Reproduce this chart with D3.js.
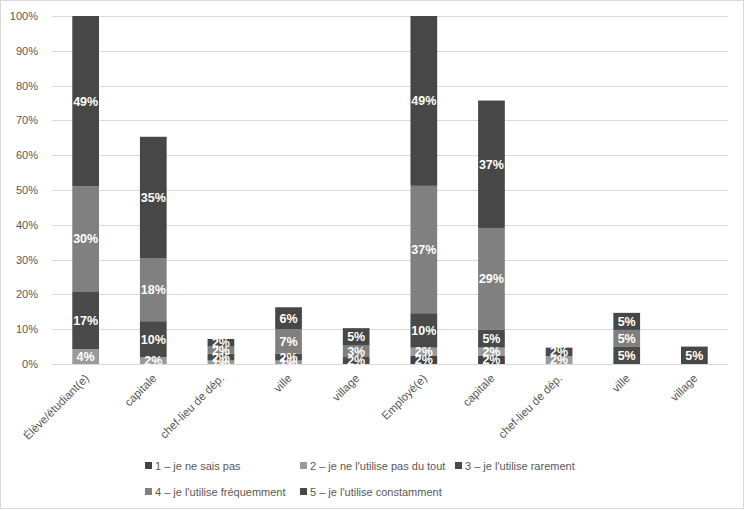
<!DOCTYPE html>
<html>
<head>
<meta charset="utf-8">
<script src="https://cdn.jsdelivr.net/npm/d3@7"></script>
<style>
  html, body { margin: 0; padding: 0; background: #fff; }
  svg { display: block; }
  text { font-family: "Liberation Sans", Arial, sans-serif; }
</style>
</head>
<body>
<div id="chart"></div>
<script>
// ---- Data (percent values) ----
const categories = ["Élève/étudiant(e)", "capitale", "chef-lieu de dép.", "ville", "village",
                    "Employé(e)", "capitale", "chef-lieu de dép.", "ville", "village"];
const seriesNames = ["1 – je ne sais pas", "2 – je ne l'utilise pas du tout", "3 – je l'utilise rarement",
                     "4 – je l'utilise fréquemment", "5 – je l'utilise constamment"];
const s1 = [0,   0,   0,   0,   0,   2.3, 2.3, 0,   0,   0];
const s2 = [4.3, 2.0, 1.0, 1.0, 0,   2.4, 2.4, 2.3, 0,   0];
const s3 = [16.6,10.3,2.0, 2.0, 2.0, 9.9, 5.1, 2.4, 4.9, 0];
const s4 = [30.2,18.0,2.0, 7.0, 3.3, 36.6,29.3,0,   4.9, 0];
const s5 = [48.9,35.0,2.2, 6.3, 5.0, 48.8,36.6,0,   4.9, 5.0];
const yTicks = [0,10,20,30,40,50,60,70,80,90,100];
const colors = ["#434343", "#9a9a9a", "#4a4a4a", "#808080", "#474747"];

const W = 744, H = 511;
const margin = {left: 52, right: 16, top: 16, bottom: 147};
const svg = d3.select("#chart").append("svg").attr("width", W).attr("height", H);

// border
svg.append("rect").attr("x", 0.5).attr("y", 0.5).attr("width", W - 1).attr("height", H - 3)
  .attr("fill", "#fff").attr("stroke", "#d9d9d9");

const idx = d3.range(categories.length);
const x = d3.scaleBand().domain(idx).range([margin.left, W - margin.right]).paddingInner(0.605).paddingOuter(0.3);
const y = d3.scaleLinear().domain([0, 100]).range([H - margin.bottom, margin.top]);

// gridlines
svg.append("g").selectAll("line").data(yTicks).join("line")
  .attr("x1", margin.left).attr("x2", W - margin.right)
  .attr("y1", d => Math.round(y(d)) + 0.5).attr("y2", d => Math.round(y(d)) + 0.5)
  .attr("stroke", "#d9d9d9").attr("stroke-width", 1);

// y axis labels
const yAxis = d3.axisLeft(y).tickValues(yTicks).tickFormat(d => d + "%").tickSize(0).tickPadding(14);
const gy = svg.append("g").attr("transform", `translate(${margin.left},0)`).call(yAxis);
gy.select(".domain").remove();
gy.selectAll("text").attr("fill", "#595959").style("font-size", "11px")
  .style("font-family", "'Liberation Sans', Arial, sans-serif");

// stacked data
const table = idx.map(i => ({i, v0: s1[i], v1: s2[i], v2: s3[i], v3: s4[i], v4: s5[i]}));
const keys = ["v0", "v1", "v2", "v3", "v4"];
const stack = d3.stack().keys(keys)(table);

const layers = svg.append("g").selectAll("g").data(stack).join("g")
  .attr("fill", (d, k) => colors[k]);
layers.selectAll("rect").data(d => d.filter(p => p[1] - p[0] > 0)).join("rect")
  .attr("x", p => x(p.data.i))
  .attr("width", x.bandwidth())
  .attr("y", p => y(p[1]))
  .attr("height", p => y(p[0]) - y(p[1]));

// data labels
const lab = svg.append("g");
stack.forEach((layer, k) => {
  layer.forEach(p => {
    const v = p[1] - p[0];
    if (v <= 0) return;
    lab.append("text")
      .attr("x", x(p.data.i) + x.bandwidth() / 2)
      .attr("y", (y(p[0]) + y(p[1])) / 2)
      .attr("dy", "0.36em")
      .attr("text-anchor", "middle")
      .attr("fill", "#fff")
      .style("font-size", "12.5px")
      .style("font-weight", "bold")
      .text(Math.round(v) + "%");
  });
});

// x axis labels
const xAxis = d3.axisBottom(x).tickFormat(i => categories[i]).tickSize(0).tickPadding(0);
const gx = svg.append("g").attr("transform", `translate(0,${H - margin.bottom})`).call(xAxis);
gx.select(".domain").remove();
gx.selectAll("text")
  .attr("fill", "#595959").style("font-size", "11.5px")
  .style("font-family", "'Liberation Sans', Arial, sans-serif")
  .attr("text-anchor", "end")
  .attr("dy", 0)
  .attr("transform", "translate(4,15) rotate(-45)");

// legend
const legendPos = [[145, 466], [300, 466], [455, 466], [145, 492], [300, 492]];
const lg = svg.append("g");
seriesNames.forEach((name, k) => {
  const [lx, ly] = legendPos[k];
  lg.append("rect").attr("x", lx).attr("y", ly - 4).attr("width", 7).attr("height", 7).attr("fill", colors[k]);
  lg.append("text").attr("x", lx + 10).attr("y", ly).attr("dy", "0.35em")
    .attr("fill", "#595959").style("font-size", "11px").text(name);
});
</script>
</body>
</html>
